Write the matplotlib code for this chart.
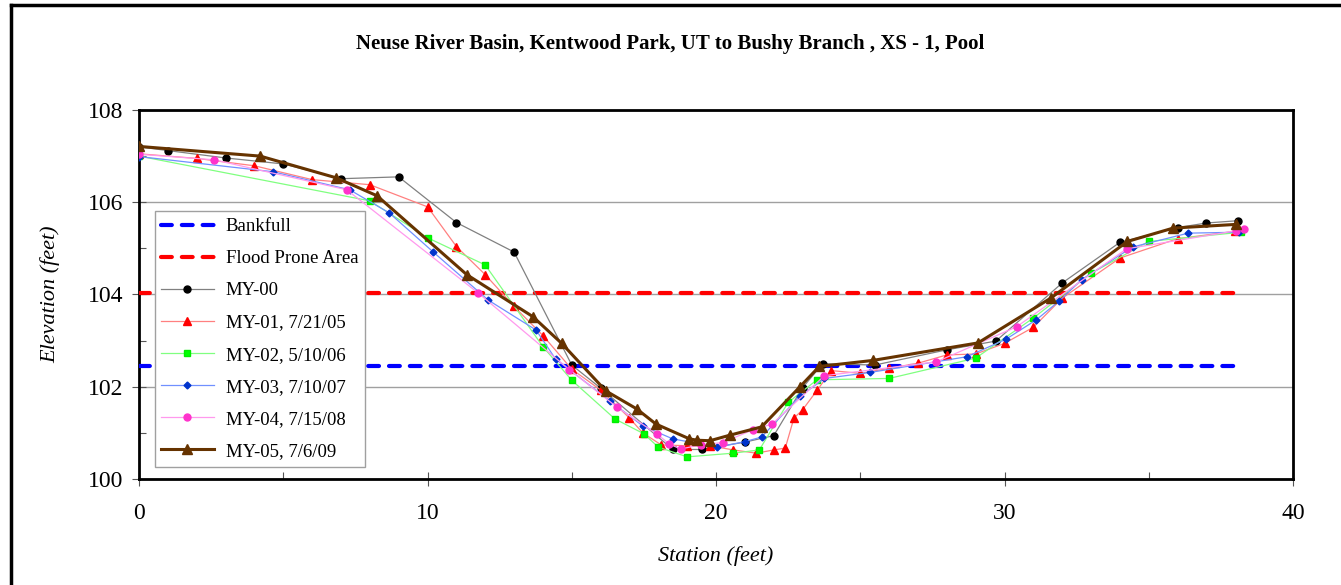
import matplotlib.pyplot as plt
from matplotlib.lines import Line2D
from matplotlib.ticker import MultipleLocator

plt.rcParams['font.family'] = ['Liberation Serif', 'DejaVu Serif']

# survey data: station (ft) and elevation (ft)
my00_x = [0, 1.0, 3.0, 5.0, 7.0, 9.0, 11.0, 13.0, 15.0, 16.0, 18.5, 19.5, 21.0, 22.0,
          23.0, 23.7, 25.5, 28.0, 29.7, 32.0, 34.0, 36.0, 37.0, 38.1]
my00_y = [107.2, 107.12, 106.96, 106.83, 106.51, 106.55, 105.56, 104.92, 102.47, 101.97,
          100.64, 100.64, 100.8, 100.94, 101.98, 102.5, 102.47, 102.8, 102.99, 104.25,
          105.13, 105.45, 105.55, 105.6]

my01_x = [0, 2.0, 4.0, 6.0, 8.0, 10.0, 11.0, 12.0, 13.0, 14.0, 15.0, 16.0, 17.0, 17.46,
          18.1, 19.0, 19.8, 20.6, 21.4, 22.0, 22.4, 22.7, 23.0, 23.5, 24.0, 25.0, 26.0,
          27.0, 28.0, 29.0, 30.0, 31.0, 32.0, 34.0, 36.0, 38.0]
my01_y = [107.05, 106.95, 106.79, 106.49, 106.38, 105.9, 105.04, 104.43, 103.74, 103.11,
          102.38, 101.93, 101.32, 101.0, 100.74, 100.72, 100.72, 100.63, 100.56, 100.63,
          100.67, 101.32, 101.5, 101.92, 102.35, 102.29, 102.4, 102.51, 102.69, 102.71,
          102.94, 103.29, 103.92, 104.79, 105.21, 105.37]

my02_x = [0, 8.0, 10.0, 12.0, 14.0, 15.0, 16.5, 17.5, 18.0, 19.0, 20.6, 21.5, 22.5, 23.5,
          26.0, 29.0, 31.0, 33.0, 35.0, 38.2]
my02_y = [107.0, 106.03, 105.23, 104.64, 102.87, 102.14, 101.3, 100.98, 100.69, 100.48,
          100.56, 100.63, 101.66, 102.15, 102.18, 102.62, 103.49, 104.46, 105.15, 105.35]

my03_x = [0, 4.65, 7.3, 8.67, 10.2, 12.1, 13.76, 14.44, 16.33, 17.46, 18.5, 20.05, 21.0,
          21.58, 22.9, 23.76, 25.34, 28.69, 30.05, 31.1, 31.9, 32.67, 34.44, 36.37, 38.14]
my03_y = [106.99, 106.66, 106.27, 105.77, 104.92, 103.88, 103.23, 102.6, 101.69, 101.15,
          100.87, 100.69, 100.81, 100.91, 101.79, 102.18, 102.31, 102.65, 103.03, 103.45,
          103.86, 104.32, 105.03, 105.33, 105.35]

my04_x = [0, 2.6, 7.2, 11.76, 14.92, 16.56, 17.94, 18.38, 18.77, 19.47, 20.23, 21.29,
          21.94, 23.76, 27.64, 30.42, 34.23, 38.02, 38.3]
my04_y = [107.04, 106.92, 106.27, 104.03, 102.37, 101.56, 100.98, 100.76, 100.65, 100.74,
          100.79, 101.07, 101.19, 102.24, 102.54, 103.3, 104.99, 105.38, 105.42]

my05_x = [0, 4.2, 6.83, 8.25, 11.36, 13.65, 14.65, 16.18, 17.25, 17.92, 19.08, 19.35,
          19.79, 20.48, 21.58, 22.91, 23.58, 25.43, 29.08, 31.6, 34.26, 35.85, 38.04]
my05_y = [107.21, 107.0, 106.53, 106.14, 104.43, 103.52, 102.94, 101.91, 101.52, 101.19,
          100.87, 100.84, 100.83, 100.95, 101.13, 102.0, 102.44, 102.57, 102.95, 103.92,
          105.15, 105.44, 105.52]

bankfull = 102.45
flood_prone = 104.03
line_x = [0, 38]

fig = plt.figure(figsize=(13.41, 5.85), dpi=100)
ax = fig.add_axes([0.1037, 0.1812, 0.8605, 0.6308])

# outer chart frame (left and top edges visible)
fig.add_artist(Line2D([11 / 1341, 11 / 1341], [0, 1 - 5 / 585], color='black', lw=2.5,
                      transform=fig.transFigure))
fig.add_artist(Line2D([11 / 1341, 1], [1 - 5 / 585, 1 - 5 / 585], color='black', lw=2.5,
                      transform=fig.transFigure))

ax.plot(line_x, [bankfull, bankfull], color='#0000FF', ls=(0, (2.6, 2.4)), lw=3,
        dash_capstyle='round', label='Bankfull', zorder=3)
ax.plot(line_x, [flood_prone, flood_prone], color='#FF0000', ls=(0, (2.6, 2.4)), lw=3,
        dash_capstyle='round', label='Flood Prone Area', zorder=3)

ax.plot(my00_x, my00_y, color='#808080', lw=0.9, marker='o', ms=5,
        mfc='black', mec='black', label='MY-00', zorder=4)
ax.plot(my01_x, my01_y, color='#FF8080', lw=0.9, marker='^', ms=5.5,
        mfc='#FF0000', mec='#FF0000', label='MY-01, 7/21/05', zorder=4)
ax.plot(my02_x, my02_y, color='#80FF80', lw=0.9, marker='s', ms=5,
        mfc='#00FF00', mec='#00EE00', label='MY-02, 5/10/06', zorder=4)
ax.plot(my03_x, my03_y, color='#7090FF', lw=0.9, marker='D', ms=3.5,
        mfc='#0033CC', mec='#0033CC', label='MY-03, 7/10/07', zorder=4)
ax.plot(my04_x, my04_y, color='#FF99EE', lw=0.9, marker='o', ms=5,
        mfc='#FF33CC', mec='#FF33CC', label='MY-04, 7/15/08', zorder=4)
ax.plot(my05_x, my05_y, color='#663300', lw=2.2, marker='^', ms=7,
        mfc='#663300', mec='#663300', label='MY-05, 7/6/09', zorder=5)

ax.set_xlim(0, 40)
ax.set_ylim(100, 108)
ax.xaxis.set_major_locator(MultipleLocator(10))
ax.xaxis.set_minor_locator(MultipleLocator(5))
ax.yaxis.set_major_locator(MultipleLocator(2))
ax.yaxis.set_minor_locator(MultipleLocator(1))
ax.tick_params(axis='both', which='major', direction='inout', length=10, width=0.8,
               colors='#555555', labelcolor='black', labelsize=17)
ax.tick_params(axis='both', which='minor', direction='in', length=5, width=0.8,
               colors='#555555')
ax.tick_params(axis='x', pad=12)
ax.tick_params(axis='y', pad=6)
ax.grid(True, axis='y', which='major', color='#A0A0A0', lw=1)
for side in ax.spines.values():
    side.set_linewidth(2)
    side.set_color('black')

ax.set_xlabel('Station (feet)', fontsize=16, style='italic', labelpad=16)
ax.set_ylabel('Elevation (feet)', fontsize=16, style='italic', labelpad=20)
fig.text(0.5, 1 - 44 / 585, 'Neuse River Basin, Kentwood Park, UT to Bushy Branch , XS - 1, Pool',
         ha='center', va='center', fontsize=15, weight='bold')

leg = ax.legend(loc='upper left', bbox_to_anchor=(0.0135, 0.725), fontsize=13.5,
                frameon=True, fancybox=False, edgecolor='#A0A0A0', framealpha=1,
                handlelength=2.8, handletextpad=0.65, labelspacing=0.8,
                borderpad=0.35, borderaxespad=0)
leg.get_frame().set_linewidth(1)

fig.savefig('out.png', dpi=100)
